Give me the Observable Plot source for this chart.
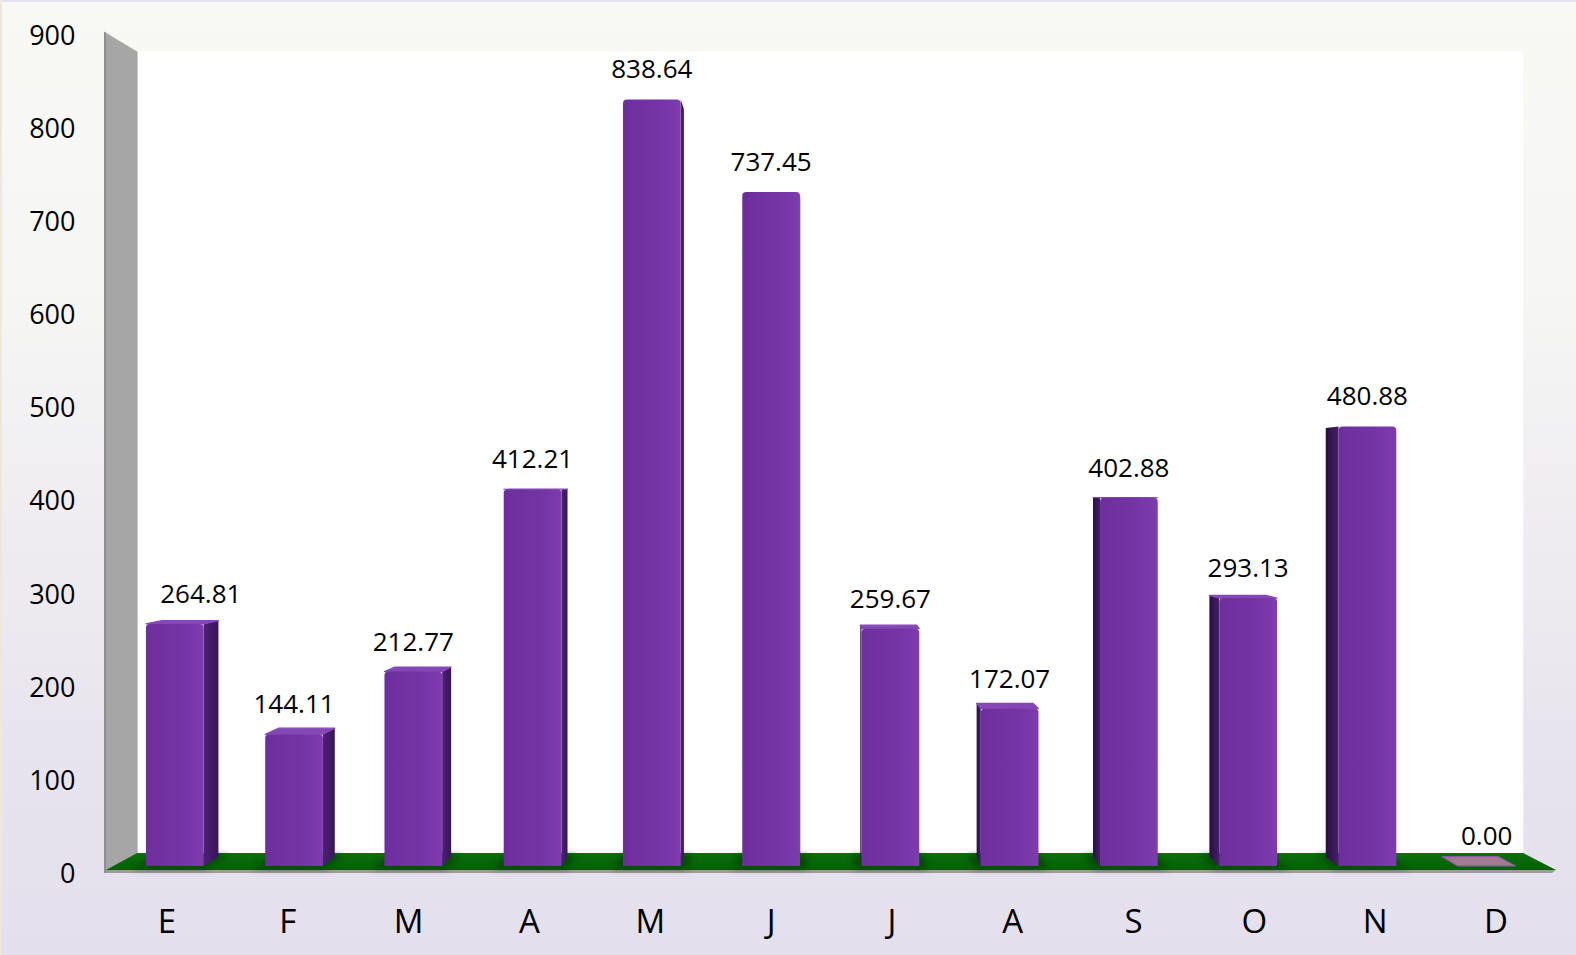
<!DOCTYPE html>
<html><head><meta charset="utf-8">
<script src="https://cdn.jsdelivr.net/npm/d3@7"></script>
<script src="https://cdn.jsdelivr.net/npm/@observablehq/plot@0.6"></script>
<style>
html,body{margin:0;padding:0;background:#e4dfec;}
#chart{width:1576px;height:955px;overflow:hidden;}
</style>
</head><body><div id="chart"></div>
<script>
// ---- data ----
const months = ["E","F","M","A","M","J","J","A","S","O","N","D"];
const values = [264.81,144.11,212.77,412.21,838.64,737.45,259.67,172.07,402.88,293.13,480.88,0.00];
const yTicks = [0,100,200,300,400,500,600,700,800,900];
const valueLabels = values.map(v => v.toFixed(2));

const data = months.map((m, i) => ({i, month: m, value: values[i], label: valueLabels[i]}));

// ---- 3D perspective helpers (front plane = Plot scales) ----
const VP = [811, 484];
const S_FRONT = 1, S_BAR1 = 0.987, S_BAR2 = 0.963, S_BACK = 0.956;
const proj = (x, y, s) => [VP[0] + (x - VP[0]) * s, VP[1] + (y - VP[1]) * s];
// bars: slightly different vertical foreshortening (as in the source 3D chart)
const BAR_VY = 658, BAR_SY = 0.981;
const barP = (x, y, s) => [VP[0] + (x - VP[0]) * s, BAR_VY + (y - BAR_VY) * BAR_SY + (y - VP[1]) * (s - S_BAR1)];
const pts = a => a.map(p => p[0].toFixed(2) + "," + p[1].toFixed(2)).join(" ");
const FONT = "'Open Sans', 'Noto Sans', sans-serif";

function bandInfo(scales) {
  const x = scales.x;
  const bw = x.bandwidth ? x.bandwidth() : 120.83;
  const x0 = x(0), x1 = x(11) + bw;
  return {x, bw, x0, x1};
}

// room: walls + floor
function room(index, scales) {
  const {x0, x1} = bandInfo(scales);
  const y0 = scales.y(0), y1 = scales.y(900);
  const g = d3.create("svg:g");
  const defs = g.append("defs");
  const fg = defs.append("linearGradient").attr("id", "floorGrad").attr("x1", 0).attr("y1", 0).attr("x2", 0).attr("y2", 1);
  fg.append("stop").attr("offset", "0%").attr("stop-color", "#0b700b");
  fg.append("stop").attr("offset", "100%").attr("stop-color", "#056005");
  defs.append("filter").attr("id", "blur3").attr("x", "-20%").attr("y", "-50%").attr("width", "140%").attr("height", "200%")
    .append("feGaussianBlur").attr("stdDeviation", 3);

  // back wall
  g.append("polygon").attr("points", pts([proj(x0, y1, S_BACK), proj(x1, y1, S_BACK), proj(x1, y0, S_BACK), proj(x0, y0, S_BACK)]))
    .attr("fill", "#ffffff");
  // left wall
  g.append("polygon").attr("points", pts([proj(x0 - 2, y1, S_FRONT), proj(x0, y1, S_BACK), proj(x0, y0, S_BACK), proj(x0 - 2, y0 + 3, S_FRONT)]))
    .attr("fill", "#a6a6a6");
  g.append("line").attr("x1", x0 - 1).attr("x2", x0 - 1).attr("y1", y1 + 1).attr("y2", y0 + 3)
    .attr("stroke", "#8e8e8e").attr("stroke-width", 2);
  const bt = proj(x0, y1, S_BACK), bb = proj(x0, y0, S_BACK);
  g.append("line").attr("x1", bt[0] + 0.5).attr("x2", bb[0] + 0.5).attr("y1", bt[1]).attr("y2", bb[1])
    .attr("stroke", "#c9c9c9").attr("stroke-width", 1);
  // floor slab front edge
  g.append("polygon").attr("points", pts([proj(x0, y0, S_FRONT), proj(x1, y0, S_FRONT), [x1 - 4, y0 + 3], [x0, y0 + 3]]))
    .attr("fill", "#9c9c9c");
  // floor top
  g.append("polygon").attr("points", pts([proj(x0, y0, S_FRONT), proj(x1, y0, S_FRONT), proj(x1, y0, S_BACK), proj(x0, y0, S_BACK)]))
    .attr("fill", "url(#floorGrad)");
  return g.node();
}

// bars as projected boxes
function bars(index, scales) {
  const {x, bw} = bandInfo(scales);
  const yb = scales.y(0);
  const g = d3.create("svg:g");
  const defs = g.append("defs");
  const fr = defs.append("linearGradient").attr("id", "barFront").attr("x1", 0).attr("x2", 1).attr("y1", 0).attr("y2", 0);
  fr.append("stop").attr("offset", "0%").attr("stop-color", "#6e2f9e");
  fr.append("stop").attr("offset", "60%").attr("stop-color", "#7334a4");
  fr.append("stop").attr("offset", "100%").attr("stop-color", "#7e3caf");
  const sdR = defs.append("linearGradient").attr("id", "barSideR").attr("x1", 0).attr("x2", 1).attr("y1", 0).attr("y2", 0);
  sdR.append("stop").attr("offset", "0%").attr("stop-color", "#4d2176");
  sdR.append("stop").attr("offset", "100%").attr("stop-color", "#38155a");
  const sdL = defs.append("linearGradient").attr("id", "barSideL").attr("x1", 0).attr("x2", 1).attr("y1", 0).attr("y2", 0);
  sdL.append("stop").attr("offset", "0%").attr("stop-color", "#2a0f41");
  sdL.append("stop").attr("offset", "100%").attr("stop-color", "#45206a");

  const hw = bw * 0.242;
  for (const d of data) {
    const c = x(d.i) + bw / 2;
    const xl = c - hw, xr = c + hw;
    const yt = scales.y(d.value);
    // floor shadow
    if (d.value > 0) {
      g.append("polygon").attr("points", pts([barP(xl - 8, yb, S_BAR1 + 0.008), barP(xr + 8, yb, S_BAR1 + 0.008), barP(xr + 8, yb, S_BAR2 - 0.006), barP(xl - 8, yb, S_BAR2 - 0.006)]))
        .attr("fill", "#013601").attr("opacity", 0.55).attr("filter", "url(#blur3)");
    }
    const xs = c < VP[0] ? xr : xl;
    if (d.value > 0) {
      g.append("polygon").attr("points", pts([barP(xs, yt, S_BAR1), barP(xs, yt, S_BAR2), barP(xs, yb, S_BAR2), barP(xs, yb, S_BAR1)]))
        .attr("fill", c < VP[0] ? "url(#barSideR)" : "url(#barSideL)");
    }
    if (yt > VP[1]) {
      g.append("polygon").attr("points", pts([barP(xl, yt, S_BAR1), barP(xr, yt, S_BAR1), barP(xr, yt, S_BAR2), barP(xl, yt, S_BAR2)]))
        .attr("fill", d.value > 0 ? "#8547b6" : "#a47a92").attr("stroke", d.value > 0 ? "#8547b6" : "#8a5aa8").attr("stroke-width", 1.2)
        .attr("stroke-linejoin", "round");
    }
    if (d.value > 0) {
      const a = barP(xl, yt, S_BAR1), b = barP(xr, yt, S_BAR1), e = barP(xr, yb, S_BAR1), f = barP(xl, yb, S_BAR1);
      g.append("path")
        .attr("d", `M${f[0]},${f[1]} L${a[0]},${a[1] + 4} Q${a[0]},${a[1]} ${a[0] + 4},${a[1]} L${b[0] - 4},${b[1]} Q${b[0]},${b[1]} ${b[0]},${b[1] + 4} L${e[0]},${e[1]} Z`)
        .attr("fill", "url(#barFront)");
    }
  }
  return g.node();
}

// value labels above bars
function labels(index, scales) {
  const {x, bw, x0} = bandInfo(scales);
  const g = d3.create("svg:g").attr("font-family", FONT).attr("font-size", 26).attr("fill", "#000").attr("text-anchor", "middle");
  const wallLeft = proj(x0, 0, S_BACK)[0];
  for (const d of data) {
    const c = x(d.i) + bw / 2;
    const top = barP(c, scales.y(d.value), S_BAR1);
    const half = d.label.length * 6.8;
    const cx = Math.max(top[0], wallLeft + 23 + half);
    g.append("text").attr("x", cx).attr("y", top[1] - 21).text(d.label);
  }
  return g.node();
}

const chart = Plot.plot({
  width: 1576,
  height: 955,
  margin: 0,
  style: {
    background: "linear-gradient(to right, #ece8dc 0px, #ece8dc 2px, transparent 2px), linear-gradient(to bottom, #e3dfec 0px, #e3dfec 2px, #f8f9f5 2px, #f6f6f4 30%, #e9e5ee 75%, #e3dfec 100%)",
    fontFamily: FONT,
    overflow: "visible"
  },
  x: {type: "band", domain: d3.range(12), range: [106, 1556], padding: 0, round: false, axis: null},
  y: {domain: [0, 900], range: [870, 31.5], axis: null},
  marks: [
    room,
    bars,
    labels,
    Plot.text(yTicks, {y: d => d, text: d => String(d), frameAnchor: "left", dx: 75, dy: 4, textAnchor: "end", fontSize: 27, fill: "#000"}),
    Plot.text(data, {x: "i", text: "month", frameAnchor: "bottom", dy: -23, fontSize: 33, fill: "#000"})
  ]
});
document.getElementById("chart").appendChild(chart);
</script>
</body></html>
